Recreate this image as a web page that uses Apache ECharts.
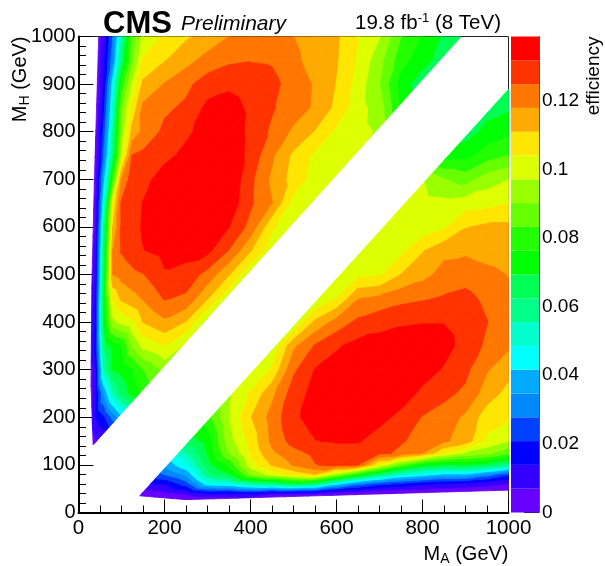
<!DOCTYPE html>
<html>
<head>
<meta charset="utf-8">
<title>efficiency</title>
<script src="https://cdn.jsdelivr.net/npm/echarts@6/dist/echarts.min.js"></script>
<style>
html, body { margin: 0; padding: 0; background: #fff; }
#chart { width: 605px; height: 566px; }
</style>
</head>
<body>
<div id="chart"></div>
<script>
// colour bar: 20 bands from 0 up to zMax
const zMax = 0.1387;
const zTicks = [0, 0.02, 0.04, 0.06, 0.08, 0.1, 0.12];
const bandColors = ['#6600ff', '#3300ff', '#0000ff', '#0040ff', '#0088ff', '#00aaff', '#00ffff', '#00ffcc', '#00ff88', '#00ff55',
    '#00ff00', '#22ff00', '#66ff00', '#99ff00', '#ddff00', '#ffe600', '#ffaa00', '#ff7700', '#ff3300', '#ff0000'];

// MH > MA part. one list per MH, starts at first MA column
const upperMA = [25, 40, 60, 80, 100, 125, 150, 200, 250, 300, 350, 400, 450, 500, 550, 600, 650, 700, 750, 800, 850, 900];
const u1000 = [0, 0, .011, .028, .055, .085, .099, .1055, .11, .1135, .118, .121, .122, .118, .1145, .112, .104, .0975, .0833, .0755, .068, .064];
const u950 = [0, 0, .013, .032, .062, .088, .1045, .1105, .1155, .1205, .1235, .1245, .124, .1195, .115, .1115, .103, .0925, .079, .072, .066, .062];
const u900 = [0, 0, .016, .045, .078, .098, .1125, .1183, .123, .1285, .1305, .1285, .127, .1215, .1172, .1105, .101, .0902, .073, .065, .065];
const u850 = [0, 0, .02, .05, .088, .106, .1195, .1235, .1262, .1335, .1345, .1305, .1255, .1215, .1168, .109, .1, .0935, .075, .07];
const u800 = [0, 0, .025, .056, .092, .1135, .1195, .1265, .1305, .1345, .136, .13, .1235, .1165, .1105, .1025, .0995, .096, .09];
const u750 = [0, .002, .03, .062, .098, .125, .1265, .13, .1335, .1365, .137, .1295, .119, .1095, .1025, .0995, .098, .095];
const u700 = [0, .004, .04, .08, .1185, .1285, .1295, .135, .137, .138, .138, .1265, .1165, .108, .101, .0985, .096];
const u650 = [0, .005, .05, .104, .126, .129, .132, .136, .138, .138, .1365, .126, .118, .1015, .098, .096];
const u600 = [0, .007, .06, .111, .126, .129, .1325, .136, .1375, .136, .132, .1225, .105, .1, .097];
const u550 = [0, .009, .065, .118, .1255, .1285, .1315, .134, .1345, .1335, .1245, .1115, .1, .097];
const u500 = [0, .012, .068, .118, .1205, .123, .1245, .131, .129, .1225, .1115, .097, .095];
const u450 = [0, .014, .072, .105, .1125, .1155, .1185, .1255, .1235, .1115, .098, .09];
const u400 = [0, .016, .07, .095, .099, .1025, .111, .1165, .1105, .094, .088];
const u350 = [0, .017, .064, .072, .0755, .0905, .099, .104, .096, .082];
const u300 = [0, .012, .056, .0695, .072, .0755, .083, .092, .09];
const u250 = [0, .012, .036, .054, .064, .072, .078, .08];
const u200 = [0, .014, .02, .03, .04, .05, .055];
const u150 = [0, .0055, .007, .011, .02];
const u100 = [0, .002, .004];

// MH < MA part. nulls where the scan has no point near
const lowerMA = [100, 150, 200, 250, 300, 350, 400, 450, 500, 550, 600, 650, 700, 750, 800, 850, 900, 950, 1000];
const n = null;
const l25 = [0, 0, 0, 0, 0, 0, 0, 0, 0, 0, 0, 0, 0, 0, 0, 0, 0, 0, 0];
const l40 = [0, .003, .005, .0075, .013, .012, .014, .008, .0075, .007, .0035, .003, 0, 0, 0, 0, 0, 0, 0];
const l60 = [.01, .012, .014, .024, .045, .047, .055, .058, .065, .06, .043, .03, .023, .019, .015, .0125, .011, .009, .006];
const l80 = [.015, .02, .028, .036, .06, .068, .09, .1, .106, .111, .093, .076, .062, .05, .045, .04, .04, .032, .0225];
const l100 = [.016, .02, .036, .047, .066, .078, .101, .1115, .1185, .1245, .1265, .125, .103, .085, .072, .068, .069, .0655, .058];
const l125 = [n, n, .05, .055, .07, .09, .105, .1165, .1225, .1265, .1285, .1285, .1265, .1235, .118, .1045, .096, .092, .085];
const l150 = [n, n, .06, .065, .072, .094, .1065, .1195, .1275, .1315, .1325, .1325, .128, .1255, .1225, .119, .1145, .1025, .097];
const l200 = [n, n, n, .075, .08, .097, .1105, .1205, .1305, .1345, .137, .137, .1345, .1295, .1245, .122, .1165, .107, .105];
const l250 = [n, n, n, n, .085, .096, .105, .116, .1285, .134, .137, .138, .138, .136, .13, .1265, .1235, .1145, .1085];
const l300 = [n, n, n, n, n, .09, .097, .105, .1235, .132, .1345, .136, .1365, .1365, .1355, .131, .1265, .1185, .1135];
const l350 = [n, n, n, n, n, n, .095, .098, .1165, .1255, .131, .134, .1345, .135, .135, .1345, .129, .1235, .119];
const l400 = [n, n, n, n, n, n, n, .095, .097, .1125, .1205, .1265, .1295, .131, .1315, .1315, .1285, .125, .1195];
const l450 = [n, n, n, n, n, n, n, n, .095, .097, .1041, .1175, .1195, .1225, .124, .1255, .1265, .1235, .12];
const l500 = [n, n, n, n, n, n, n, n, n, .097, .0985, .102, .103, .111, .1155, .1205, .1225, .1205, .1175];
const l550 = [n, n, n, n, n, n, n, n, n, n, .097, .0985, .1, .102, .1105, .116, .1165, .114, .1125];
const l600 = [n, n, n, n, n, n, n, n, n, n, n, .097, .097, .098, .0995, .103, .1105, .1125, .1125];
const l650 = [n, n, n, n, n, n, n, n, n, n, n, n, .097, .0985, .0995, .099, .1005, .1015, .104];
const l700 = [n, n, n, n, n, n, n, n, n, n, n, n, n, .095, .0975, .0905, .087, .0935, .097];
const l750 = [n, n, n, n, n, n, n, n, n, n, n, n, n, n, .073, .073, .0735, .08, .0833];
const l800 = [n, n, n, n, n, n, n, n, n, n, n, n, n, n, n, .067, .066, .0715, .0745];
const l850 = [n, n, n, n, n, n, n, n, n, n, n, n, n, n, n, n, .0655, .0665, .0685];
const l900 = [n, n, n, n, n, n, n, n, n, n, n, n, n, n, n, n, .065, .065, .066];

// outline of the scanned mass points, [MA, MH], counter clockwise
const upperEdge = [[34, 142], [890, 1000], [47, 1000], [37, 700], [31, 480], [29, 270]];
const lowerEdge = [[142.5, 35], [250, 27], [1000, 47], [1000, 889]];

const upperRows = [[100, u100], [150, u150], [200, u200], [250, u250], [300, u300], [350, u350], [400, u400], [450, u450], [500, u500],
    [550, u550], [600, u600], [650, u650], [700, u700], [750, u750], [800, u800], [850, u850], [900, u900], [950, u950], [1000, u1000]];
const lowerRows = [[25, l25], [40, l40], [60, l60], [80, l80], [100, l100], [125, l125], [150, l150], [200, l200], [250, l250], [300, l300],
    [350, l350], [400, l400], [450, l450], [500, l500], [550, l550], [600, l600], [650, l650], [700, l700], [750, l750], [800, l800], [850, l850], [900, l900]];

const bandStep = zMax / bandColors.length;

// keep the part of poly where d(p) >= 0, points are [ma, mh, eff]
function clipHalf(poly, d) {
    const out = [];
    for (let i = 0; i < poly.length; i++) {
        const a = poly[i], b = poly[(i + 1) % poly.length];
        const da = d(a), db = d(b);
        if (da >= 0) out.push(a);
        if ((da >= 0) !== (db >= 0)) {
            const t = da / (da - db);
            out.push([a[0] + t * (b[0] - a[0]), a[1] + t * (b[1] - a[1]), a[2] + t * (b[2] - a[2])]);
        }
    }
    return out;
}

function clipEdge(poly, edge) {
    for (let i = 0; i < edge.length && poly.length > 2; i++) {
        const p = edge[i], q = edge[(i + 1) % edge.length];
        poly = clipHalf(poly, function (c) {
            return (q[0] - p[0]) * (c[1] - p[1]) - (q[1] - p[1]) * (c[0] - p[0]);
        });
    }
    return poly;
}

// filled contours: triangles of the grid cut at the band limits
function contourBands(ma, rows, edge, polys) {
    function corner(r, c) {
        const v = rows[r][1][c];
        return v === undefined || v === null ? null : [ma[c], rows[r][0], v];
    }
    function addTriangle(tri) {
        if (tri[0] === null || tri[1] === null || tri[2] === null) return;
        const inside = clipEdge(tri, edge);
        if (inside.length < 3) return;
        bandColors.forEach(function (color, k) {
            const lo = k * bandStep, hi = (k + 1) * bandStep;
            let p = clipHalf(inside, function (c) { return c[2] - lo; });
            if (p.length > 2) p = clipHalf(p, function (c) { return hi - c[2]; });
            if (p.length > 2) polys.push({ band: k, points: p });
        });
    }
    for (let r = 0; r < rows.length - 1; r++) {
        for (let c = 0; c < ma.length - 1; c++) {
            addTriangle([corner(r, c), corner(r, c + 1), corner(r + 1, c + 1)]);
            addTriangle([corner(r, c), corner(r + 1, c + 1), corner(r + 1, c)]);
        }
    }
}

const polys = [];
contourBands(upperMA, upperRows, upperEdge, polys);
contourBands(lowerMA, lowerRows, lowerEdge, polys);
polys.sort(function (a, b) { return a.band - b.band; });

const textFont = '"Liberation Sans", Arial, sans-serif';
function plainNumber(v) { return String(v); }

const option = {
    animation: false,
    backgroundColor: '#fff',
    textStyle: { fontFamily: textFont, color: '#000' },
    title: [
        { text: 'CMS', left: 98, top: 4, textStyle: { fontFamily: textFont, fontSize: 31, fontWeight: 'bold', color: '#000' } },
        { text: 'Preliminary', left: 176, top: 9, textStyle: { fontFamily: textFont, fontSize: 21, fontStyle: 'italic', fontWeight: 'normal', color: '#000' } },
        {
            text: '{a|19.8 fb}{b|-1}{a| (8 TeV)}', left: 350, top: 7,
            textStyle: {
                fontFamily: textFont, fontWeight: 'normal',
                rich: {
                    a: { fontFamily: textFont, fontSize: 20.5, color: '#000' },
                    b: { fontFamily: textFont, fontSize: 13, color: '#000', padding: [0, 0, 10, 0] }
                }
            }
        }
    ],
    grid: [
        { left: 78.5, top: 36.5, width: 430, height: 476, outerBoundsMode: 'none', show: true, borderColor: '#222', borderWidth: 1, backgroundColor: 'transparent' },
        { left: 511, top: 36.5, width: 28, height: 476, outerBoundsMode: 'none' }
    ],
    xAxis: [
        {
            gridIndex: 0, type: 'value', min: 0, max: 1000, interval: 200,
            name: '{m|M}{s|A}{m| (GeV)}',
            nameLocation: 'end', nameGap: 0, nameMoveOverlap: false,
            nameTextStyle: {
                align: 'right', verticalAlign: 'top', padding: [30, 0, 0, 0],
                rich: {
                    m: { fontFamily: textFont, fontSize: 20, color: '#000' },
                    s: { fontFamily: textFont, fontSize: 14, color: '#000', padding: [10, 0, 0, 0] }
                }
            },
            axisLine: { show: true, onZero: false, lineStyle: { color: '#000', width: 2 } },
            axisTick: { inside: true, length: 13, lineStyle: { color: '#000', width: 1 } },
            minorTick: { show: true, splitNumber: 4, length: 7, lineStyle: { color: '#000', width: 1 } },
            axisLabel: { fontFamily: textFont, fontSize: 20.5, color: '#000', margin: 5, formatter: plainNumber },
            splitLine: { show: false }
        },
        { gridIndex: 1, type: 'value', min: 0, max: 1, show: false }
    ],
    yAxis: [
        {
            gridIndex: 0, type: 'value', min: 0, max: 1000, interval: 100,
            name: '{m|M}{s|H}{m| (GeV)}',
            nameLocation: 'end', nameGap: 0, nameRotate: 90, nameMoveOverlap: false,
            nameTextStyle: {
                align: 'right', verticalAlign: 'bottom', padding: [0, 0, 46, 0],
                rich: {
                    m: { fontFamily: textFont, fontSize: 20, color: '#000' },
                    s: { fontFamily: textFont, fontSize: 14, color: '#000', padding: [10, 0, 0, 0] }
                }
            },
            axisLine: { show: true, onZero: false, lineStyle: { color: '#000', width: 2 } },
            axisTick: { inside: true, length: 15, lineStyle: { color: '#000', width: 1 } },
            minorTick: { show: true, splitNumber: 5, length: 7.5, lineStyle: { color: '#000', width: 1 } },
            axisLabel: { fontFamily: textFont, fontSize: 20, color: '#000', margin: 3, formatter: plainNumber },
            splitLine: { show: false }
        },
        {
            gridIndex: 1, type: 'value', min: 0, max: zMax, position: 'right',
            name: 'efficiency',
            nameLocation: 'end', nameGap: 0, nameRotate: 90, nameMoveOverlap: false,
            nameTextStyle: { fontFamily: textFont, fontSize: 19, color: '#000', align: 'right', verticalAlign: 'top', padding: [45, 0, 0, 0] },
            axisLine: { show: true, onZero: false, lineStyle: { color: '#555', width: 1 } },
            axisTick: { inside: true, length: 15, customValues: zTicks, lineStyle: { color: '#222', width: 1 } },
            axisLabel: { customValues: zTicks, fontFamily: textFont, fontSize: 19, color: '#000', margin: 3 },
            splitLine: { show: false }
        }
    ],
    series: [
        {
            type: 'custom',
            name: 'efficiency',
            xAxisIndex: 0,
            yAxisIndex: 0,
            clip: true,
            silent: true,
            data: polys.map(function (p, i) { return [p.points[0][0], p.points[0][1], i]; }),
            renderItem: function (params, api) {
                const p = polys[api.value(2)];
                return {
                    type: 'polygon',
                    shape: { points: p.points.map(function (c) { return api.coord([c[0], c[1]]); }) },
                    style: { fill: bandColors[p.band], stroke: bandColors[p.band], lineWidth: 0.8 }
                };
            }
        },
        {
            type: 'custom',
            name: 'palette',
            xAxisIndex: 1,
            yAxisIndex: 1,
            silent: true,
            data: bandColors.map(function (c, k) { return [0, k * bandStep, (k + 1) * bandStep, k]; }),
            renderItem: function (params, api) {
                const a = api.coord([0, api.value(1)]);
                const b = api.coord([1, api.value(2)]);
                return {
                    type: 'rect',
                    shape: { x: a[0], y: b[1], width: b[0] - a[0], height: a[1] - b[1] },
                    style: { fill: bandColors[api.value(3)] }
                };
            }
        }
    ]
};

const chart = echarts.init(document.getElementById('chart'), null, { renderer: 'canvas' });
chart.setOption(option);
</script>
</body>
</html>
